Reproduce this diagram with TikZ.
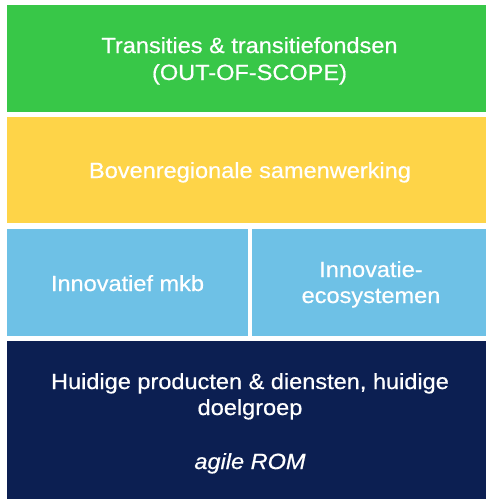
\documentclass[tikz,border=0pt]{standalone}
\usepackage{fontspec}
\setmainfont[FakeStretch=1.07,FakeBold=0.6]{Liberation Sans}
\definecolor{cgreen}{HTML}{38C748}
\definecolor{cyellow}{HTML}{FED448}
\definecolor{cblue}{HTML}{6EC1E6}
\definecolor{cnavy}{HTML}{0C1F52}
\begin{document}
\begin{tikzpicture}[x=1pt,y=-1pt,
  lbl/.style={text=white,anchor=base,inner sep=0pt,font=\fontsize{22}{27}\selectfont}]
\useasboundingbox (0,0) rectangle (486,499);
\fill[white] (0,0) rectangle (486,499);
\path[fill=cgreen] (7,5) rectangle (486,112);
\path[fill=cyellow] (7,117) rectangle (486,223);
\path[fill=cblue] (7,229) rectangle (248,336);
\path[fill=cblue] (252,229) rectangle (486,336);
\path[fill=cnavy] (7,341) rectangle (486,499);
\node[lbl] (g1) at (249.5,53) {Transities \& transitiefondsen};
\node[lbl] (g2) at (249.5,80) {(OUT-OF-SCOPE)};
\node[lbl] (y1) at (250,178) {Bovenregionale samenwerking};
\node[lbl] (b1) at (127.5,291) {Innovatief mkb};
\node[lbl] (b2) at (371,277) {Innovatie-};
\node[lbl] (b3) at (371,303) {ecosystemen};
\node[lbl] (n1) at (250,389) {Huidige producten \& diensten, huidige};
\node[lbl] (n2) at (250,415) {doelgroep};
\node[lbl,font=\fontsize{22}{27}\selectfont\itshape] (n3) at (250,469) {agile ROM};
\end{tikzpicture}
\end{document}
